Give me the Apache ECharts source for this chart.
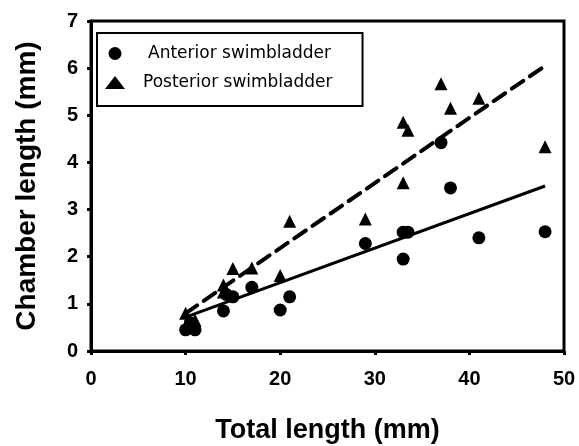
<!DOCTYPE html>
<html>
<head>
<meta charset="utf-8">
<script src="https://cdn.jsdelivr.net/npm/echarts@6/dist/echarts.min.js"></script>
<style>html,body{margin:0;padding:0;background:#fff}#c{width:579px;height:446px}</style>
</head>
<body>
<div id="c"></div>
<script>
// Anterior swimbladder: total length (mm), chamber length (mm)
var anteriorX = [10, 10.5, 11, 14, 14.3, 15, 17, 20, 21, 29, 33, 33.5, 33, 37, 38, 41, 48];
var anteriorY = [0.45, 0.6, 0.45, 0.85, 1.2, 1.15, 1.35, 0.87, 1.15, 2.28, 2.52, 2.52, 1.95, 4.42, 3.46, 2.4, 2.53];
// Posterior swimbladder
var posteriorX = [10, 11, 14, 14, 15, 17, 20, 21, 29, 33, 33.5, 33, 37, 38, 41, 48];
var posteriorY = [0.8, 0.65, 1.25, 1.4, 1.75, 1.76, 1.6, 2.75, 2.8, 4.85, 4.68, 3.57, 5.67, 5.15, 5.36, 4.33];
// Regression lines (end points)
var fitX = [10, 48];
var anteriorFitY = [0.72, 3.5];
var posteriorFitY = [0.8, 6.05];
var xTicks = [0, 10, 20, 30, 40, 50];
var yTicks = [0, 1, 2, 3, 4, 5, 6, 7];

function pairs(xs, ys) { return xs.map(function (x, i) { return [x, ys[i]]; }); }

var chart = echarts.init(document.getElementById('c'), null, {renderer: 'canvas'});
var axisFont = {fontFamily: 'Liberation Sans', fontWeight: 'bold', fontSize: 20, color: '#000'};
chart.setOption({
  animation: false,
  backgroundColor: '#fff',
  grid: {left: 91, right: 15, top: 21, bottom: 95, show: true, borderColor: '#000', borderWidth: 3,
         containLabel: false, outerBoundsMode: 'none'},
  legend: {
    data: ['Anterior swimbladder', 'Posterior swimbladder'],
    orient: 'vertical',
    left: 97, top: 33,
    padding: [12, 30, 15, 8],
    itemWidth: 20, itemHeight: 13, itemGap: 12,
    borderColor: '#000', borderWidth: 2,
    backgroundColor: '#fff',
    itemStyle: {color: '#000', opacity: 1},
    formatter: function (n) { return n === 'Anterior swimbladder' ? '{a|' + n + '}' : '{p|' + n + '}'; },
    textStyle: {
      fontFamily: 'DejaVu Sans', fontSize: 17, color: '#000',
      rich: {
        a: {fontFamily: 'DejaVu Sans', fontSize: 17, color: '#000', padding: [0, 0, 0, 18]},
        p: {fontFamily: 'DejaVu Sans', fontSize: 17, color: '#000', padding: [0, 0, 0, 13]}
      }
    }
  },
  xAxis: {
    type: 'value', min: 0, max: 50, interval: 10,
    name: 'Total length (mm)', nameLocation: 'middle', nameGap: 66,
    nameTextStyle: {fontFamily: 'Liberation Sans', fontWeight: 'bold', fontSize: 27, color: '#000'},
    axisLine: {show: true, onZero: false, lineStyle: {color: '#000', width: 3}},
    axisTick: {show: true, length: 4, inside: false, lineStyle: {color: '#000', width: 3}},
    axisLabel: Object.assign({margin: 18, formatter: function (v) { return xTicks.indexOf(v) >= 0 ? String(v) : ''; }}, axisFont),
    splitLine: {show: false}
  },
  yAxis: {
    type: 'value', min: 0, max: 7, interval: 1,
    name: 'Chamber length (mm)', nameLocation: 'middle', nameGap: 50,
    nameTextStyle: {fontFamily: 'Liberation Sans', fontWeight: 'bold', fontSize: 28, color: '#000'},
    axisLine: {show: true, onZero: false, lineStyle: {color: '#000', width: 3}},
    axisTick: {show: true, length: 4, inside: false, lineStyle: {color: '#000', width: 3}},
    axisLabel: Object.assign({margin: 13, formatter: function (v) { return yTicks.indexOf(v) >= 0 ? String(v) : ''; }}, axisFont),
    splitLine: {show: false}
  },
  series: [
    {
      name: 'Anterior swimbladder', type: 'scatter', symbol: 'circle', symbolSize: 13,
      itemStyle: {color: '#000', opacity: 1}, data: pairs(anteriorX, anteriorY), z: 3
    },
    {
      name: 'Posterior swimbladder', type: 'scatter', symbol: 'triangle', symbolSize: 13,
      itemStyle: {color: '#000', opacity: 1}, data: pairs(posteriorX, posteriorY), z: 3
    },
    {
      name: 'anteriorFit', type: 'line', showSymbol: false, symbol: 'none', silent: true,
      lineStyle: {color: '#000', width: 3}, data: pairs(fitX, anteriorFitY), z: 2
    },
    {
      name: 'posteriorFit', type: 'line', showSymbol: false, symbol: 'none', silent: true,
      lineStyle: {color: '#000', width: 4, type: [14, 8], cap: 'round'}, data: pairs(fitX, posteriorFitY), z: 2
    }
  ]
});
</script>
</body>
</html>
